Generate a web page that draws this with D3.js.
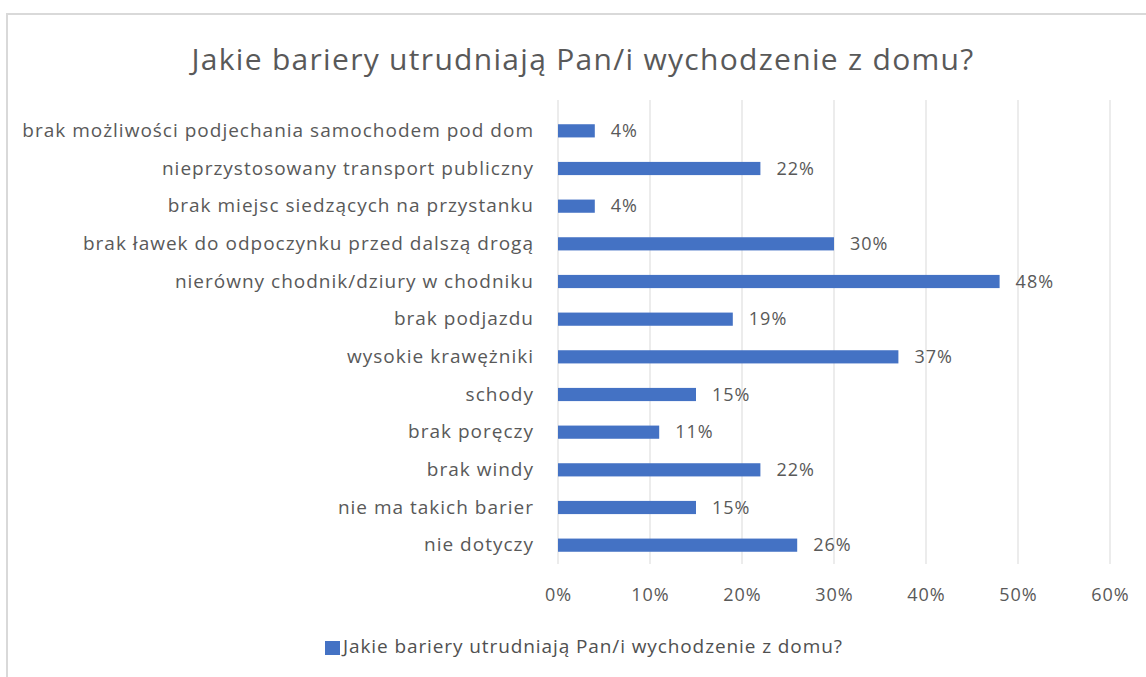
<!DOCTYPE html>
<html>
<head>
<meta charset="utf-8">
<script src="https://cdn.jsdelivr.net/npm/d3@7"></script>
<style>
    body { margin: 0; background: #fff; }
    svg { display: block; font-family: "Open Sans", sans-serif; }
</style>
</head>
<body>
<svg id="chart"></svg>
<script>
const chartTitle = "Jakie bariery utrudniają Pan/i wychodzenie z domu?";
const categories = [
    "brak możliwości podjechania samochodem pod dom",
    "nieprzystosowany transport publiczny",
    "brak miejsc siedzących na przystanku",
    "brak ławek do odpoczynku przed dalszą drogą",
    "nierówny chodnik/dziury w chodniku",
    "brak podjazdu",
    "wysokie krawężniki",
    "schody",
    "brak poręczy",
    "brak windy",
    "nie ma takich barier",
    "nie dotyczy"
];
const values = [4, 22, 4, 30, 48, 19, 37, 15, 11, 22, 15, 26];
const xTicks = [0, 10, 20, 30, 40, 50, 60];

const width = 1146, height = 677;
const svg = d3.select("#chart").attr("width", width).attr("height", height);

// chart frame
svg.append("rect")
    .attr("x", 7).attr("y", 14)
    .attr("width", width + 10).attr("height", height + 10)
    .attr("fill", "none")
    .attr("stroke", "#d9d9d9")
    .attr("stroke-width", 2);

svg.append("text")
    .attr("x", 583).attr("y", 70)
    .attr("text-anchor", "middle")
    .attr("font-size", 30)
    .attr("letter-spacing", 1.3)
    .attr("fill", "#595959")
    .text(chartTitle);

const x = d3.scaleLinear().domain([0, 60]).range([558, 1110]);
const y = d3.scaleBand().domain(categories).range([112, 564]).paddingInner(0.65).paddingOuter(0.325);

// vertical gridlines
svg.append("g")
    .selectAll("line")
    .data(xTicks)
    .enter().append("line")
    .attr("x1", d => x(d)).attr("x2", d => x(d))
    .attr("y1", 100).attr("y2", 564)
    .attr("stroke", "#d9d9d9")
    .attr("stroke-width", 1);

const xAxis = svg.append("g")
    .attr("transform", "translate(0,564)")
    .call(d3.axisBottom(x).tickValues(xTicks).tickFormat(d => d + "%").tickSize(0).tickPadding(24));
xAxis.select(".domain").remove();
xAxis.selectAll("text")
    .attr("font-family", "Open Sans, sans-serif")
    .attr("font-size", 18)
    .attr("letter-spacing", 1)
    .attr("fill", "#595959");

const yAxis = svg.append("g")
    .attr("transform", "translate(558,0)")
    .call(d3.axisLeft(y).tickSize(0).tickPadding(24));
yAxis.select(".domain").remove();
yAxis.selectAll("text")
    .attr("font-family", "Open Sans, sans-serif")
    .attr("font-size", 19)
    .attr("letter-spacing", 1)
    .attr("fill", "#595959");

svg.append("g")
    .selectAll("rect")
    .data(values)
    .enter().append("rect")
    .attr("x", x(0))
    .attr("y", (d, i) => y(categories[i]))
    .attr("width", d => x(d) - x(0))
    .attr("height", y.bandwidth())
    .attr("fill", "#4472c4");

svg.append("g")
    .selectAll("text")
    .data(values)
    .enter().append("text")
    .attr("x", d => x(d) + 16)
    .attr("y", (d, i) => y(categories[i]) + y.bandwidth() / 2)
    .attr("dy", "0.35em")
    .attr("font-size", 18)
    .attr("letter-spacing", 1)
    .attr("fill", "#595959")
    .text(d => d + "%");

// legend
const legend = svg.append("g").attr("transform", "translate(325,641)");
legend.append("rect")
    .attr("width", 15).attr("height", 14)
    .attr("fill", "#4472c4");
legend.append("text")
    .attr("x", 18).attr("y", 12)
    .attr("font-size", 19)
    .attr("letter-spacing", 0.9)
    .attr("fill", "#505050")
    .text(chartTitle);
</script>
</body>
</html>
